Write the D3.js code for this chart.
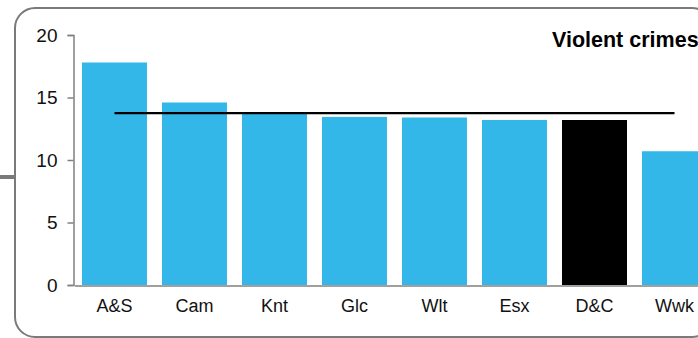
<!DOCTYPE html>
<html>
<head>
<meta charset="utf-8">
<script src="https://cdn.jsdelivr.net/npm/d3@7"></script>
<style>
  html, body { margin: 0; padding: 0; background: #fff; overflow: hidden; }
  svg { display: block; font-family: "Liberation Sans", Arial, sans-serif; }
</style>
</head>
<body>
<svg id="chart" width="698" height="338"></svg>
<script>
// Violent crimes per force area, with the comparison average line
const areas = ["A&S", "Cam", "Knt", "Glc", "Wlt", "Esx", "D&C", "Wwk"];
const rates = [17.8, 14.6, 13.7, 13.45, 13.4, 13.2, 13.2, 10.7];
const highlightArea = "D&C";
const averageRate = 13.75;
const yTicks = [0, 5, 10, 15, 20];
const title = "Violent crimes";

const svg = d3.select("#chart");

// Panel frame
svg.append("rect")
  .attr("x", 15).attr("y", 8)
  .attr("width", 697).attr("height", 329)
  .attr("rx", 20).attr("ry", 20)
  .attr("fill", "none")
  .attr("stroke", "#7a7a7a")
  .attr("stroke-width", 2);

// Connector stub on the left of the panel
svg.append("line")
  .attr("x1", 0).attr("x2", 15)
  .attr("y1", 177).attr("y2", 177)
  .attr("stroke", "#7a7a7a")
  .attr("stroke-width", 4);

const x = d3.scaleBand()
  .domain(areas)
  .range([74.5, 714.5])
  .paddingInner(0.1875)
  .paddingOuter(0.09375);

const y = d3.scaleLinear()
  .domain([0, 20])
  .range([285, 35]);

// Bars
svg.append("g")
  .selectAll("rect")
  .data(areas)
  .join("rect")
  .attr("x", d => x(d))
  .attr("width", x.bandwidth())
  .attr("y", (d, i) => y(rates[i]))
  .attr("height", (d, i) => y(0) - y(rates[i]))
  .attr("fill", d => d === highlightArea ? "#000000" : "#33b7e8");

// Y axis
const yAxis = svg.append("g")
  .attr("transform", "translate(73.5,0)")
  .call(d3.axisLeft(y).tickValues(yTicks).tickSize(6).tickPadding(10));
yAxis.select(".domain").attr("stroke", "#808080").attr("stroke-width", 1.5);
yAxis.selectAll(".tick line").attr("stroke", "#808080").attr("stroke-width", 1.5);
yAxis.selectAll(".tick text")
  .attr("fill", "#111")
  .style("font-size", "19px");

// X axis baseline and labels
const xAxis = svg.append("g")
  .attr("transform", "translate(0,285.5)")
  .call(d3.axisBottom(x).tickSize(0).tickPadding(14));
xAxis.select(".domain").attr("stroke", "#808080").attr("stroke-width", 1.5);
xAxis.selectAll(".tick text")
  .attr("fill", "#111")
  .style("font-size", "18px");

// Average line across the band centres
const avgLine = d3.line()
  .x(d => x(d) + x.bandwidth() / 2)
  .y(() => y(averageRate));
svg.append("path")
  .datum([areas[0], areas[areas.length - 1]])
  .attr("d", avgLine)
  .attr("fill", "none")
  .attr("stroke", "#000")
  .attr("stroke-width", 2.2);

// Title
svg.append("text")
  .attr("x", 552).attr("y", 47)
  .attr("fill", "#000")
  .style("font-size", "21.5px")
  .style("font-weight", "bold")
  .text(title);
</script>
</body>
</html>
